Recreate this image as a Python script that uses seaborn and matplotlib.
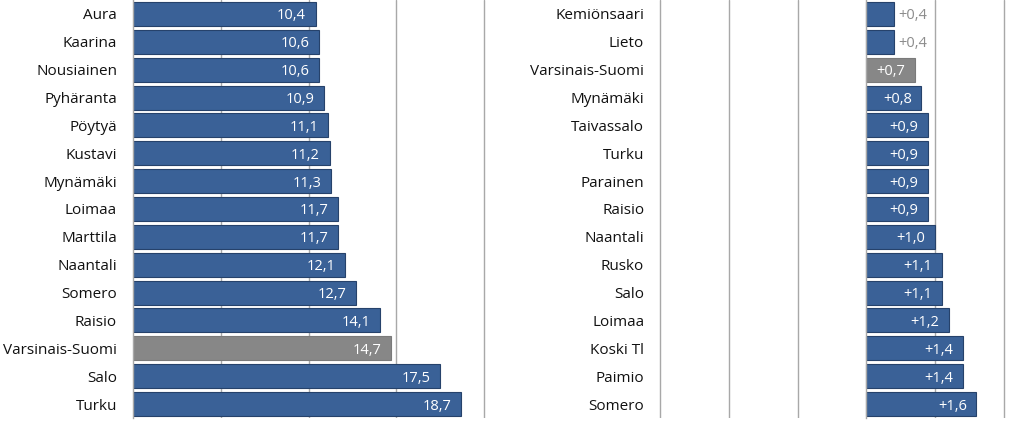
import matplotlib
matplotlib.use("Agg")
import matplotlib.pyplot as plt
import seaborn as sns
import numpy as np

# left panel: level (%)
left_names = ["Aura", "Kaarina", "Nousiainen", "Pyhäranta", "Pöytyä", "Kustavi",
              "Mynämäki", "Loimaa", "Marttila", "Naantali", "Somero", "Raisio",
              "Varsinais-Suomi", "Salo", "Turku"]
left_values = [10.4, 10.6, 10.6, 10.9, 11.1, 11.2, 11.3, 11.7, 11.7, 12.1, 12.7,
               14.1, 14.7, 17.5, 18.7]

# right panel: change (%-points)
right_names = ["Kemiönsaari", "Lieto", "Varsinais-Suomi", "Mynämäki", "Taivassalo",
               "Turku", "Parainen", "Raisio", "Naantali", "Rusko", "Salo", "Loimaa",
               "Koski Tl", "Paimio", "Somero"]
right_values = [0.4, 0.4, 0.7, 0.8, 0.9, 0.9, 0.9, 0.9, 1.0, 1.1, 1.1, 1.2,
                1.4, 1.4, 1.6]

BLUE = "#3a6197"
GREY = "#878787"
EDGE = "#26426b"
GRID = "#a8a8a8"
TICK = "#bfae8e"

sns.set_style("white")
plt.rcParams["font.family"] = ["Open Sans", "DejaVu Sans"]

fig = plt.figure(figsize=(10.24, 4.21), dpi=100)
W, H = 1024, 421
ax1 = fig.add_axes([133 / W, 3 / H, 368.6 / W, 418 / H])
ax2 = fig.add_axes([656.6 / W, 3 / H, 364.6 / W, 418 / H])


def palette_for(names):
    return {n: (GREY if n == "Varsinais-Suomi" else BLUE) for n in names}


def draw(ax, names, values, xlim, gridticks, pad, plus):
    sns.barplot(x=values, y=names, hue=names, palette=palette_for(names),
                orient="h", width=0.86, edgecolor=EDGE, linewidth=0.8,
                legend=False, ax=ax, saturation=1)
    for bar in ax.patches:
        if bar.get_facecolor()[:3] == matplotlib.colors.to_rgb(GREY):
            bar.set_edgecolor("#7a7a7a")
    ax.set_xlim(*xlim)
    ax.set_ylim(len(names) - 0.5, -0.5)
    ax.set_xticks(gridticks)
    ax.tick_params(axis="x", length=0, labelbottom=False)
    ax.grid(axis="x", color=GRID, linewidth=1.0)
    ax.set_axisbelow(True)
    for s in ["top", "right", "bottom"]:
        ax.spines[s].set_visible(False)
    ax.spines["left"].set_position(("data", 0))
    ax.spines["left"].set_color(GRID)
    ax.spines["left"].set_linewidth(1.0)
    ax.set_yticks(np.arange(len(names)))
    ax.set_yticklabels(names)
    ax.set_yticks(np.arange(len(names) + 1) - 0.5, minor=True)
    ax.tick_params(axis="y", which="major", length=0, pad=pad,
                   labelsize=11, labelcolor="#111111")
    ax.tick_params(axis="y", which="minor", length=4, width=1, color=TICK,
                   direction="out")
    ax.set_xlabel("")
    ax.set_ylabel("")

    for bar in ax.patches:
        w = bar.get_width()
        yc = bar.get_y() + bar.get_height() / 2
        txt = f"{w:.1f}".replace(".", ",")
        if plus:
            txt = "+" + txt
        if plus and w < 0.5:
            ax.annotate(txt, (w, yc), xytext=(3, 0), textcoords="offset points",
                        ha="left", va="center_baseline", fontsize=10.5,
                        color="#8c8c8c")
        else:
            ax.annotate(txt, (w, yc), xytext=(-7, 0), textcoords="offset points",
                        ha="right", va="center_baseline", fontsize=10.5,
                        color="white")


draw(ax1, left_names, left_values, (0, 21), [5, 10, 15, 20], 11.5, False)
draw(ax2, right_names, right_values, (-3.05, 2.25), [-3, -2, -1, 1, 2], 160, True)

fig.savefig("out.png", dpi=100)
